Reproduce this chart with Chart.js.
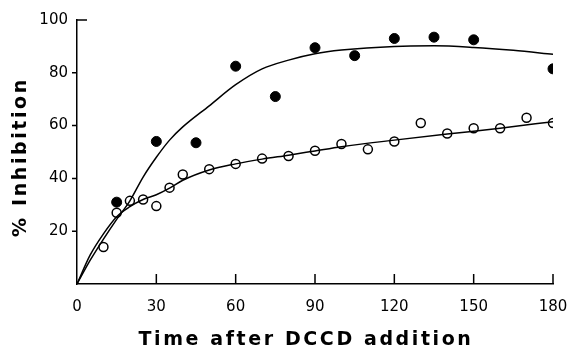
<!DOCTYPE html>
<html>
<head>
<meta charset="utf-8">
<script src="https://cdn.jsdelivr.net/npm/chart.js@4.4.0/dist/chart.umd.min.js"></script>
<style>
  html, body { margin: 0; padding: 0; background: #fff; }
</style>
</head>
<body>
<canvas id="chart" width="570" height="350"></canvas>
<script>
// filled circles
const filledX = [15, 30, 45, 60, 75, 90, 105, 120, 135, 150, 180];
const filledY = [31, 54, 53.5, 82.5, 71, 89.5, 86.5, 93, 93.5, 92.5, 81.5];
// open circles
const openX = [10, 15, 20, 25, 30, 35, 40, 50, 60, 70, 80, 90, 100, 110, 120, 130, 140, 150, 160, 170, 180];
const openY = [14, 27, 31.5, 32, 29.5, 36.5, 41.5, 43.5, 45.5, 47.5, 48.5, 50.5, 53, 51, 54, 61, 57, 59, 59, 63, 61];
// fitted curves
const fitFilledX = [0, 5, 10, 15, 20, 25, 30, 35, 40, 50, 60, 70, 80, 90, 100, 120, 135, 150, 165, 180];
const fitFilledY = [0, 9, 17, 24.5, 31.5, 40.5, 48, 54.5, 59.5, 67.5, 75.5, 81.5, 84.8, 87.2, 88.6, 90, 90.2, 89.6, 88.5, 87];
const fitOpenX = [0, 5, 10, 15, 20, 25, 30, 35, 40, 50, 60, 70, 80, 90, 100, 120, 140, 160, 180];
const fitOpenY = [0, 11, 19, 25.5, 29.3, 32, 33.8, 36.3, 39.3, 43.2, 45.5, 47.3, 48.8, 50.4, 52, 54.5, 56.8, 59, 61.5];

const xTicks = [0, 30, 60, 90, 120, 150, 180];
const yTicks = [20, 40, 60, 80, 100];
const xTitle = 'Time after DCCD addition';
const yTitle = '% Inhibition';

const toPts = (xs, ys) => xs.map((x, i) => ({ x: x, y: ys[i] }));

// tick marks (x ticks point inward, y ticks outward) and spaced axis titles
const axisDecor = {
    id: 'axisDecor',
    afterDraw(chart) {
        const { ctx, scales: { x, y } } = chart;
        ctx.save();
        ctx.strokeStyle = '#000';
        ctx.lineWidth = 1.5;
        ctx.beginPath();
        xTicks.slice(1).forEach(v => {
            const px = x.getPixelForValue(v);
            ctx.moveTo(px, y.bottom);
            ctx.lineTo(px, y.bottom - 10);
        });
        yTicks.forEach(v => {
            const py = y.getPixelForValue(v);
            ctx.moveTo(x.left, py);
            ctx.lineTo(x.left + (v === 100 ? 10 : -5), py);
        });
        ctx.stroke();

        ctx.fillStyle = '#000';
        ctx.font = 'bold 19px "DejaVu Sans"';
        ctx.letterSpacing = '2.6px';
        ctx.textAlign = 'center';
        ctx.textBaseline = 'middle';
        ctx.fillText(xTitle, 306, 340);
        ctx.translate(21, 157);
        ctx.rotate(-Math.PI / 2);
        ctx.fillText(yTitle, 0, 0);
        ctx.restore();
    }
};

new Chart(document.getElementById('chart'), {
    type: 'line',
    data: {
        datasets: [
            { data: toPts(fitFilledX, fitFilledY), borderColor: '#000', borderWidth: 1.5, pointRadius: 0, cubicInterpolationMode: 'monotone', fill: false },
            { data: toPts(fitOpenX, fitOpenY), borderColor: '#000', borderWidth: 1.5, pointRadius: 0, cubicInterpolationMode: 'monotone', fill: false },
            { data: toPts(filledX, filledY), showLine: false, pointRadius: 5, pointBackgroundColor: '#000', pointBorderColor: '#000', pointBorderWidth: 1 },
            { data: toPts(openX, openY), showLine: false, pointRadius: 4.5, pointBackgroundColor: '#fff', pointBorderColor: '#000', pointBorderWidth: 1.5 }
        ]
    },
    options: {
        responsive: false,
        animation: false,
        layout: { padding: { top: 20, right: 17, left: 0, bottom: 0 } },
        plugins: { legend: { display: false }, tooltip: { enabled: false } },
        scales: {
            x: {
                type: 'linear', min: 0, max: 180,
                grid: { display: false, drawTicks: false },
                border: { color: '#000', width: 1.5 },
                ticks: { stepSize: 30, autoSkip: false, padding: 14, color: '#000', font: { family: 'DejaVu Sans', size: 15 } },
                afterFit: s => { s.height = 66; s.paddingRight = 0; s.paddingLeft = 0; }
            },
            y: {
                min: 0, max: 100,
                grid: { display: false, drawTicks: false },
                border: { color: '#000', width: 1.5 },
                ticks: { stepSize: 20, padding: 9, color: '#000', font: { family: 'DejaVu Sans', size: 15 },
                    callback: v => (v === 0 ? '' : v) },
                afterFit: s => { s.width = 77; }
            }
        }
    },
    plugins: [axisDecor]
});
</script>
</body>
</html>
